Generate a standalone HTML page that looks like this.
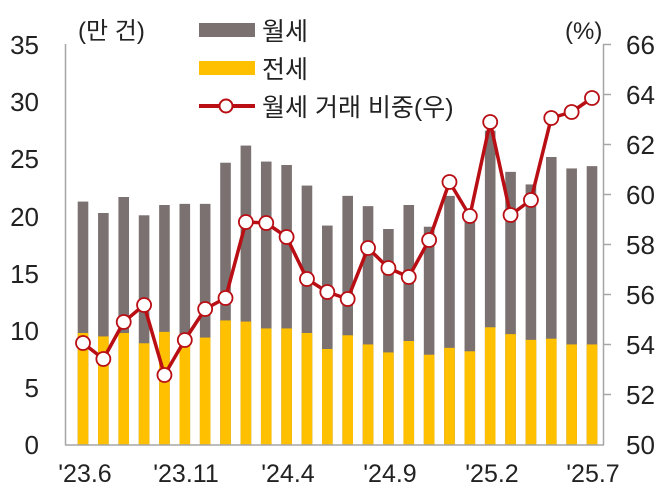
<!DOCTYPE html>
<html><head><meta charset="utf-8"><style>
html,body{margin:0;padding:0;background:#fff;}
svg{display:block;font-family:"Liberation Sans","Noto Sans CJK KR",sans-serif;}
</style></head><body>
<svg width="661" height="490" viewBox="0 0 661 490" xmlns="http://www.w3.org/2000/svg">
<g id="bars"></g>
<line x1="65.5" y1="44" x2="65.5" y2="445" stroke="#a6a6a6" stroke-width="1.5"/>
<line x1="603.5" y1="44" x2="603.5" y2="445" stroke="#a6a6a6" stroke-width="1.5"/>
<line x1="65" y1="445" x2="604" y2="445" stroke="#a6a6a6" stroke-width="1.5"/>
<g stroke="#a6a6a6" stroke-width="1.5">
<line x1="603" y1="44.5" x2="611" y2="44.5"/><line x1="603" y1="94.5" x2="611" y2="94.5"/><line x1="603" y1="144.5" x2="611" y2="144.5"/><line x1="603" y1="194.5" x2="611" y2="194.5"/><line x1="603" y1="244.5" x2="611" y2="244.5"/><line x1="603" y1="294.5" x2="611" y2="294.5"/><line x1="603" y1="344.5" x2="611" y2="344.5"/><line x1="603" y1="394.5" x2="611" y2="394.5"/>
</g>
<g font-size="26" fill="#222" text-anchor="end">
<text x="39" y="54">35</text><text x="39" y="111">30</text><text x="39" y="168">25</text><text x="39" y="226">20</text><text x="39" y="283">15</text><text x="39" y="340">10</text><text x="39" y="397">5</text><text x="39" y="454">0</text>
</g>
<g font-size="26" fill="#222" text-anchor="start">
<text x="626" y="54">66</text><text x="626" y="104">64</text><text x="626" y="154">62</text><text x="626" y="204">60</text><text x="626" y="254">58</text><text x="626" y="304">56</text><text x="626" y="354">54</text><text x="626" y="404">52</text><text x="626" y="454">50</text>
</g>
<g font-size="25" fill="#222" text-anchor="middle">
<text x="85" y="482">'23.6</text><text x="186" y="482">'23.11</text><text x="288" y="482">'24.4</text><text x="390" y="482">'24.9</text><text x="492" y="482">'25.2</text><text x="593" y="482">'25.7</text>
</g>
<text x="78" y="39" font-size="24" fill="#222">(만 건)</text>
<text x="565" y="39" font-size="24" fill="#222">(%)</text>
<rect x="199" y="23" width="56" height="14" fill="#7b7170"/>
<rect x="199" y="61" width="56" height="14" fill="#ffc000"/>
<line x1="199" y1="106" x2="255" y2="106" stroke="#b80e14" stroke-width="4"/>
<circle cx="226" cy="106" r="6.5" fill="#fff" stroke="#b80e14" stroke-width="2"/>
<g font-size="25" fill="#222">
<text x="262" y="40">월세</text><text x="262" y="78">전세</text><text x="262" y="116">월세 거래 비중(우)</text>
</g>
<g id="line"></g>
<script>
var tot=[21.3,20.3,21.7,20.1,21.0,21.1,21.1,24.7,26.2,24.8,24.5,22.7,19.2,21.8,20.9,18.9,21.0,19.1,21.8,20.0,27.5,23.9,22.8,25.2,24.2,24.4];
var jy=[9.8,9.5,9.8,8.9,9.9,9.5,9.4,10.9,10.8,10.2,10.2,9.8,8.4,9.6,8.8,8.1,9.1,7.9,8.5,8.2,10.3,9.7,9.2,9.3,8.8,8.8];
var ly=[343,359,322,305,375,340,309,298,222,223,237,279,292,299,248,268,277,240,182,216,122,215,200,118,112,98];
var ns="http://www.w3.org/2000/svg",b=document.getElementById('bars'),l=document.getElementById('line');
function el(t,a,p){var e=document.createElementNS(ns,t);for(var k in a)e.setAttribute(k,a[k]);p.appendChild(e);return e;}
var s=400/35,pts=[];
for(var i=0;i<26;i++){var cx=83+i*20.36;
el('rect',{x:cx-5.3,y:445-tot[i]*s,width:10.6,height:tot[i]*s,fill:'#7b7170'},b);
el('rect',{x:cx-5.3,y:445-jy[i]*s,width:10.6,height:jy[i]*s,fill:'#ffc000'},b);
pts.push(cx+','+ly[i]);}
el('polyline',{points:pts.join(' '),fill:'none',stroke:'#b80e14','stroke-width':3.5,'stroke-linejoin':'round'},l);
for(var i=0;i<26;i++){el('circle',{cx:83+i*20.36,cy:ly[i],r:7,fill:'#fff',stroke:'#b80e14','stroke-width':1.8},l);}
</script>
</svg>
</body></html>
